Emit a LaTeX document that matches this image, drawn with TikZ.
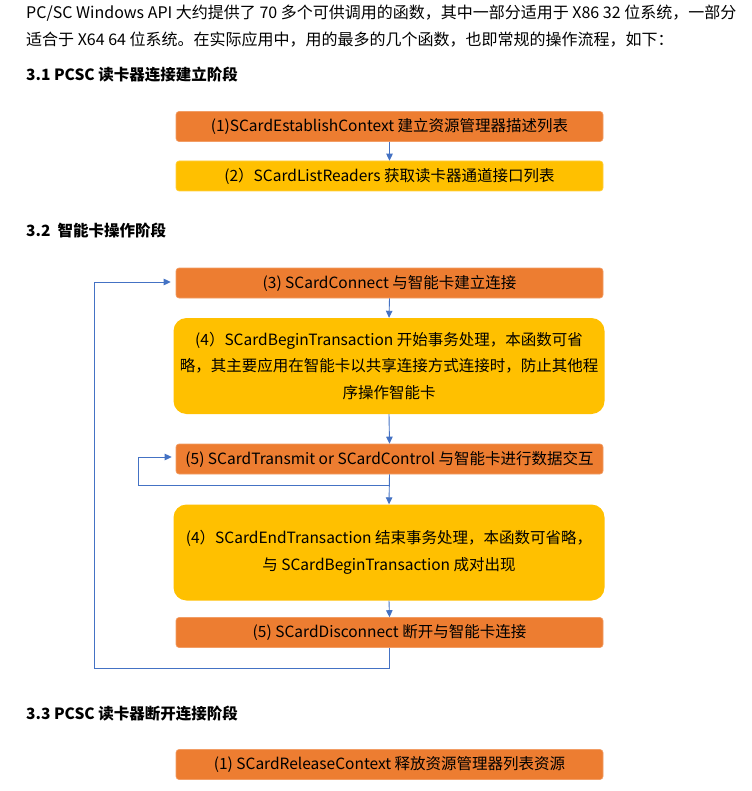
\documentclass[tikz,border=0pt]{standalone}
\usepackage{fontspec}
\setmainfont{Noto Sans CJK SC}
\usetikzlibrary{arrows.meta}
\definecolor{boxor}{HTML}{ED7D31}
\definecolor{boxye}{HTML}{FFC000}
\definecolor{linkc}{HTML}{4472C4}
\tikzset{
  bodytext/.style={anchor=base west, inner sep=0pt, font=\fontsize{16}{28}\selectfont},
  headtext/.style={anchor=base west, inner sep=0pt, font=\fontsize{15.5}{28}\selectfont\bfseries},
  obox/.style={fill=boxor, draw=boxor!75!white, line width=0.6pt, rounded corners=3pt,
     minimum width=427pt, minimum height=30pt, inner sep=0pt,
     font=\fontsize{15.5}{26}\selectfont},
  ybox/.style={obox, fill=boxye, draw=boxye!75!white},
  bigbox/.style={fill=boxye, draw=none, rounded corners=13pt, minimum width=431pt,
     inner sep=0pt, align=center, font=\fontsize{15.5}{26.5}\selectfont},
  arr/.style={draw=linkc, line width=0.9pt, -{Triangle[width=6.5pt,length=7pt]}},
  plainln/.style={draw=linkc, line width=0.9pt}
}
\begin{document}
\begin{tikzpicture}[x=1pt,y=-1pt]
\useasboundingbox[fill=white] (0,0) rectangle (751,791);
\node[bodytext] (t1) at (26,18.5) {PC/SC Windows API 大约提供了 70 多个可供调用的函数，其中一部分适用于 X86 32 位系统，一部分};
\node[bodytext] (t2) at (26,45.5) {适合于 X64 64 位系统。在实际应用中，用的最多的几个函数，也即常规的操作流程，如下：};
\node[headtext] (h1) at (26,81) {3.1 PCSC 读卡器连接建立阶段};
\node[headtext] (h2) at (26,237) {3.2\ \ 智能卡操作阶段};
\node[headtext] (h3) at (26,719) {3.3 PCSC 读卡器断开连接阶段};

\node[obox] (b1) at (389.5,126.5) {(1)SCardEstablishContext 建立资源管理器描述列表};
\node[ybox] (b2) at (389.5,176) {(2）SCardListReaders 获取读卡器通道接口列表};

\node[obox] (b3) at (389.5,283) {(3) SCardConnect 与智能卡建立连接};
\node[bigbox, minimum height=96pt] (b4) at (389,366) {(4）SCardBeginTransaction 开始事务处理，本函数可省\\略，其主要应用在智能卡以共享连接方式连接时，防止其他程\\序操作智能卡};
\node[obox] (b5) at (389.5,459) {(5) SCardTransmit or SCardControl 与智能卡进行数据交互};
\node[bigbox, minimum height=96pt] (b6) at (389,552.5) {(4）SCardEndTransaction 结束事务处理，本函数可省略，\\与 SCardBeginTransaction 成对出现};
\node[obox] (b7) at (389.5,632.5) {(5) SCardDisconnect 断开与智能卡连接};
\node[obox] (b8) at (389.5,764.5) {(1) SCardReleaseContext 释放资源管理器列表资源};

\coordinate (c5) at (389.5,485.5);
\coordinate (l5) at (138,457);
\coordinate (c7) at (389.5,668);
\coordinate (l7) at (94.5,282);

\draw[arr] (b1.south) -- (b2.north);
\draw[arr] (b3.south) -- (b4.north);
\draw[arr] (b4.south) -- (b5.north);
\draw[arr] (b5.south) -- (b6.north);
\draw[arr] (b6.south) -- (b7.north);
\draw[arr, shorten >=4pt] (c5) -| (l5) -- (l5 -| b5.west);
\draw[arr, shorten >=5pt] (b7.south) |- (c7) -| (l7) -- (l7 -| b3.west);
\end{tikzpicture}
\end{document}
